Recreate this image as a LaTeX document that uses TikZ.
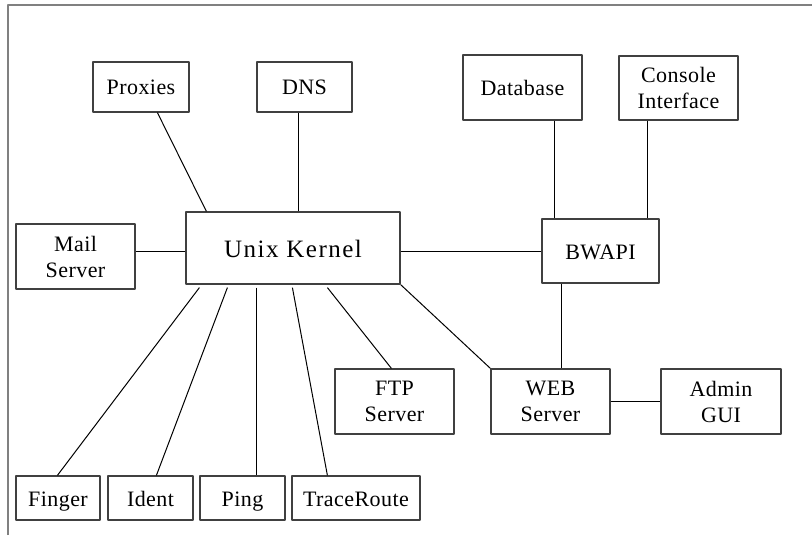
\documentclass[tikz,border=0pt]{standalone}
\usepackage{fontspec}
\setmainfont{Liberation Serif}
\usetikzlibrary{calc}
\tikzset{
	box/.style={draw=black!75,line width=0.6pt,inner sep=0pt,align=center,font=\fontsize{11}{13}\selectfont\addfontfeatures{LetterSpace=2}},
	oneline/.style={box,text height=10.5pt,text depth=2.5pt},
	link/.style={line width=0.5pt}
}
\begin{document}
\begin{tikzpicture}[x=0.5pt,y=-0.5pt,line join = round]
			\useasboundingbox (0,0) rectangle (812,535);
			\draw[gray,line width=0.7pt] (8,535) -- (8,5) -- (812,5);
			% top row
			\node[oneline,minimum width=48pt,minimum height=25pt] (proxies) at (141,87) {Proxies};
			\node[oneline,minimum width=47.5pt,minimum height=25pt] (dns) at (304.5,87) {DNS};
			\node[oneline,minimum width=59.5pt,minimum height=32.5pt] (database) at (522.5,87.5) {Database};
			\node[box,minimum width=59.5pt,minimum height=32pt] (console) at (678.5,88) {Console\\Interface};
			% middle row
			\node[oneline,minimum width=107pt,minimum height=36pt,text height=12.2pt,font=\fontsize{12.5}{14}\selectfont\addfontfeatures{LetterSpace=6}] (kernel) at (293,248) {Unix Kernel};
			\node[box,minimum width=59.5pt,minimum height=32.5pt] (mail) at (75.5,256.5) {Mail\\Server};
			\node[oneline,minimum width=58.5pt,minimum height=32pt] (bwapi) at (600.5,251) {BWAPI};
			% servers
			\node[box,minimum width=59.5pt,minimum height=32.5pt] (ftp) at (394.5,401.5) {FTP\\Server};
			\node[box,minimum width=59.5pt,minimum height=32.5pt] (web) at (550.5,401.5) {WEB\\Server};
			\node[box,minimum width=60pt,minimum height=32.5pt] (admin) at (721,401.5) {Admin\\GUI};
			% bottom row
			\node[oneline,minimum width=42pt,minimum height=22pt] (finger) at (58,498) {Finger};
			\node[oneline,minimum width=42.5pt,minimum height=22pt] (ident) at (150.5,498) {Ident};
			\node[oneline,minimum width=42.5pt,minimum height=22pt] (ping) at (242.5,498) {Ping};
			\node[oneline,minimum width=64pt,minimum height=22pt] (traceroute) at (356,498) {TraceRoute};
			% links
			\draw[link] ($(proxies.south west)+(65,0)$) -- ($(kernel.north west)+(21,0)$);
			\draw[link] ($(dns.south west)+(42,0)$) -- ($(kernel.north west)+(113,0)$);
			\draw[link] ($(kernel.west)+(0,3)$) -- (mail.east |- {$(kernel.west)+(0,3)$});
			\draw[link] (bwapi.west) -- (bwapi.west -| kernel.east);
			\draw[link] ($(database.south west)+(92,0)$) -- ($(bwapi.north west)+(13,0)$);
			\draw[link] ($(console.south west)+(29,0)$) -- ($(bwapi.north west)+(106,0)$);
			\draw[link] ($(bwapi.south west)+(20,0)$) -- ($(web.north west)+(71,0)$);
			\draw[link] (web.east) -- (admin.west);
			\draw[link] (kernel.south east) -- (web.north west);
			\draw[link] ($(kernel.south west)+(142,3)$) -- ($(ftp.north west)+(57,0)$);
			\draw[link] ($(kernel.south west)+(14,3)$) -- ($(finger.north west)+(42,0)$);
			\draw[link] ($(kernel.south west)+(42,3)$) -- ($(ident.north west)+(49,0)$);
			\draw[link] ($(kernel.south west)+(71,3)$) -- ($(ping.north west)+(57,0)$);
			\draw[link] ($(kernel.south west)+(107,3)$) -- ($(traceroute.north west)+(36,0)$);
\end{tikzpicture}
\end{document}
